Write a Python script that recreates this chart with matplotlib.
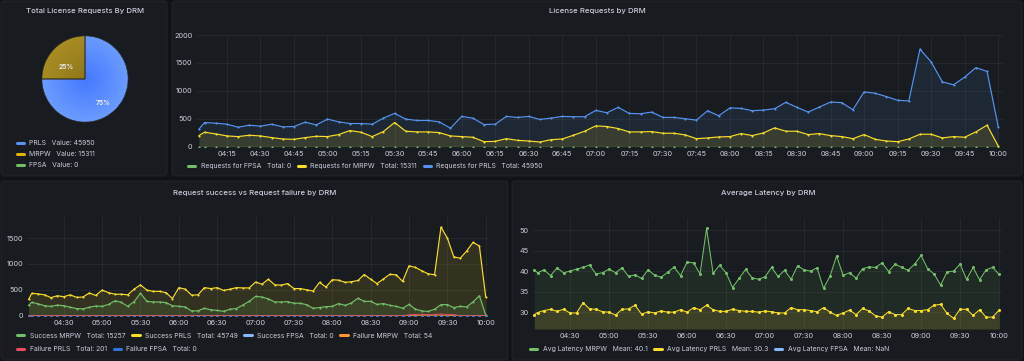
import numpy as np
import matplotlib.pyplot as plt
from matplotlib.lines import Line2D
from matplotlib.patches import FancyBboxPatch

plt.rcParams['font.family'] = ['Inter', 'DejaVu Sans']

# --- data -------------------------------------------------------------
# samples: first one at 04:02:30, then every 5 minutes up to 10:00
t_min = np.r_[242.5, np.arange(245, 601, 5)]

pie_labels = ["PRLS", "MRPW", "FPSA"]
pie_values = [45950, 15311, 0]

prls = [313, 433, 421, 403, 349, 385, 367, 403, 355, 361,
        439, 391, 494, 445, 415, 415, 403, 512, 596, 494,
        470, 470, 445, 331, 542, 512, 397, 403, 542, 524,
        542, 488, 512, 542, 536, 536, 650, 608, 704, 596,
        590, 620, 524, 524, 500, 476, 644, 554, 695, 686,
        644, 656, 680, 795, 704, 620, 710, 800, 789, 662,
        981, 957, 897, 831, 819, 1746, 1517, 1162, 1108, 1246,
        1415, 1348, 361]
mrpw = [199, 259, 229, 193, 181, 205, 193, 163, 138, 132,
        163, 187, 181, 217, 289, 259, 181, 271, 433, 277,
        265, 265, 253, 193, 181, 169, 90, 96, 144, 114,
        102, 84, 126, 138, 205, 277, 373, 361, 325, 265,
        265, 271, 241, 241, 211, 144, 157, 175, 181, 235,
        199, 247, 337, 277, 277, 217, 235, 199, 181, 144,
        217, 132, 102, 90, 138, 223, 223, 157, 181, 169,
        265, 385, 12]
fpsa = [0] * 73

success_prls = [313, 433, 421, 403, 349, 385, 367, 403, 355, 361,
                439, 391, 494, 445, 415, 415, 403, 512, 596, 494,
                470, 470, 445, 331, 542, 512, 397, 403, 542, 524,
                542, 488, 512, 542, 536, 536, 650, 608, 704, 596,
                590, 620, 524, 524, 500, 476, 644, 554, 695, 686,
                644, 656, 680, 795, 704, 620, 710, 800, 789, 662,
                963, 932, 867, 809, 791, 1711, 1497, 1139, 1108, 1246,
                1415, 1348, 361]
success_mrpw = [199, 259, 229, 193, 181, 205, 193, 163, 138, 132,
                163, 187, 181, 217, 289, 259, 181, 271, 433, 277,
                265, 265, 253, 193, 181, 169, 90, 96, 144, 114,
                102, 84, 126, 138, 205, 277, 373, 361, 325, 265,
                265, 271, 241, 241, 211, 144, 157, 175, 181, 235,
                199, 247, 337, 277, 277, 217, 235, 199, 181, 144,
                217, 126, 92, 82, 126, 214, 214, 157, 181, 169,
                265, 385, 12]
success_fpsa = [0] * 73
fail_prls = [0] * 60 + [18, 25, 30, 22, 28, 35, 20, 23] + [0] * 5
fail_mrpw = [0] * 61 + [6, 10, 8, 12, 9, 9] + [0] * 6
fail_fpsa = [0] * 73

lat_mrpw = [40.3, 39.6, 40.3, 38.9, 40.8, 39.6, 40.0, 40.5, 40.9, 41.5,
            39.3, 39.6, 40.5, 39.6, 40.8, 38.7, 39.1, 38.2, 40.3, 39.0,
            38.5, 39.7, 41.0, 38.9, 42.2, 42.0, 39.3, 50.4, 39.5, 41.4,
            39.6, 36.0, 38.2, 40.4, 38.4, 38.0, 38.6, 40.9, 38.7, 40.2,
            38.0, 41.3, 40.3, 40.0, 40.8, 35.8, 38.8, 43.7, 39.0, 39.6,
            38.3, 40.6, 41.0, 40.9, 42.0, 39.9, 41.7, 40.9, 40.2, 41.7,
            43.8, 40.6, 39.3, 36.6, 39.8, 40.0, 41.7, 38.0, 40.9, 37.9,
            40.3, 40.9, 39.2]
lat_prls = [29.4, 29.9, 30.4, 30.7, 30.2, 30.7, 29.8, 29.8, 32.3, 30.8,
            30.7, 30.1, 30.0, 29.3, 30.7, 30.8, 31.7, 29.5, 30.1, 29.8,
            30.3, 30.0, 30.0, 30.6, 30.0, 31.1, 30.6, 31.7, 30.6, 30.2,
            30.2, 30.7, 30.4, 30.2, 30.2, 30.0, 30.3, 30.1, 29.8, 29.8,
            31.1, 30.6, 30.6, 30.4, 30.1, 31.1, 30.0, 29.2, 29.8, 30.5,
            29.4, 30.9, 30.3, 29.1, 28.8, 30.1, 29.4, 29.4, 30.9, 30.4,
            30.4, 30.6, 31.7, 31.9, 29.7, 28.5, 30.7, 30.7, 29.2, 30.6,
            28.8, 28.8, 30.5]

ticks_15 = ["04:15", "04:30", "04:45", "05:00", "05:15", "05:30", "05:45",
            "06:00", "06:15", "06:30", "06:45", "07:00", "07:15", "07:30",
            "07:45", "08:00", "08:15", "08:30", "08:45", "09:00", "09:15",
            "09:30", "09:45", "10:00"]
ticks_30 = ["04:30", "05:00", "05:30", "06:00", "06:30", "07:00", "07:30",
            "08:00", "08:30", "09:00", "09:30", "10:00"]

# --- colours ----------------------------------------------------------
BG = "#111217"
PANEL = "#181b1f"
BORDER = "#24272d"
TXT = "#ccccdc"
BLUE = "#5794f2"
YELLOW = "#fade2a"
GREEN = "#73bf69"
ORANGE = "#ff9830"
RED = "#f2495c"
DBLUE = "#3274d9"
LBLUE = "#8ab8ff"

W, H = 1024, 361
fig = plt.figure(figsize=(W / 100, H / 100), dpi=100, facecolor=BG)


def fx(x):
    return x / W


def fy(y):
    return 1 - y / H


def to_min(s):
    h, m = s.split(":")
    return int(h) * 60 + int(m)


def panel(x0, y0, x1, y1, title, tx, ty):
    p = FancyBboxPatch((fx(x0), fy(y1)), (x1 - x0) / W, (y1 - y0) / H,
                       boxstyle="round,pad=0,rounding_size=0.003",
                       mutation_aspect=W / H, transform=fig.transFigure,
                       facecolor=PANEL, edgecolor=BORDER, lw=0.6, zorder=-1)
    fig.add_artist(p)
    fig.text(fx(tx), fy(ty), title, ha="center", va="center", color=TXT,
             fontsize=5.6, fontweight="medium")


def legend(items, x, y, **kw):
    handles = [Line2D([0], [0], color=c, lw=2.2, solid_capstyle="round") for c, _ in items]
    labels = [lab for _, lab in items]
    opts = dict(ncol=len(items), columnspacing=1.0)
    opts.update(kw)
    fig.legend(handles, labels, loc="center left", bbox_to_anchor=(fx(x), fy(y)),
               frameon=False, fontsize=4.9, labelcolor=TXT, handlelength=1.1,
               handletextpad=0.75, borderpad=0, borderaxespad=0, **opts)


def style(ax, xt, yt, ylim):
    ax.set_facecolor("none")
    ax.set_xlim(241.5, 602)
    ax.set_ylim(*ylim)
    ax.set_xticks([to_min(s) for s in xt], xt)
    ax.set_yticks(yt)
    ax.tick_params(length=0, labelsize=5.3, colors=TXT, pad=3)
    for s in ax.spines.values():
        s.set_visible(False)
    ax.grid(color="#ccccdc", alpha=0.09, lw=0.5)
    ax.set_axisbelow(True)


def series(ax, y, c, fill=0.1, ms=1.5, lw=0.85):
    if fill:
        ax.fill_between(t_min, ax.get_ylim()[0], y, color=c, alpha=fill, lw=0)
    ax.plot(t_min, y, color=c, lw=lw, marker="o", ms=ms, mew=0)


# --- panels -----------------------------------------------------------
panel(1, 1, 167, 176, "Total License Requests By DRM", 85, 11)
panel(172, 1, 1022, 176, "License Requests by DRM", 597, 11)
panel(1, 181, 508, 360, "Request success vs Request failure by DRM", 255, 193)
panel(512, 181, 1022, 360, "Average Latency by DRM", 768, 193.5)

# --- pie --------------------------------------------------------------
axp = fig.add_axes([fx(41), fy(123), 88 / W, 88 / H])
wedges, _, pct = axp.pie(pie_values, colors=[BLUE, "#a38a22", GREEN], startangle=90,
                         counterclock=False, radius=1,
                         autopct=lambda p: f"{p:.0f}%" if p > 0 else "",
                         pctdistance=0.6,
                         wedgeprops=dict(edgecolor="#2a2a20", linewidth=0.5))
axp.set_xlim(-1.02, 1.02)
axp.set_ylim(-1.02, 1.02)
axp.set_aspect("equal")
yy, xx = np.mgrid[-1:1:200j, -1:1:200j]
rr = np.clip(np.hypot(xx, yy), 0, 1)[..., None]
grads = [((0.27, 0.47, 1.0), (0.42, 0.61, 1.0)),
         ((0.56, 0.47, 0.10), (0.66, 0.55, 0.14))]
for w, (c0, c1) in zip(wedges[:2], grads):
    img = np.array(c0) * (1 - rr) + np.array(c1) * rr
    im = axp.imshow(img, extent=(-1, 1, -1, 1), origin="lower", zorder=1)
    im.set_clip_path(w)
    w.set_zorder(2)
    w.set_facecolor("none")
for t in pct:
    x, y = t.get_position()
    t.set_position((x, y - 0.14))
    t.set_color("#e6e6ee")
    t.set_fontsize(4.8)
    t.set_fontweight("bold")
    t.set_zorder(3)

legend([(BLUE, f"{pie_labels[0]}   Value: {pie_values[0]}"),
        ("#e0b400", f"{pie_labels[1]}   Value: {pie_values[1]}"),
        (GREEN, f"{pie_labels[2]}   Value: {pie_values[2]}")],
       16.5, 154, ncol=1, labelspacing=0.75)

# --- license requests -------------------------------------------------
ax1 = fig.add_axes([fx(196.7), fy(146.7), 806 / W, 111.7 / H])
style(ax1, ticks_15, [0, 500, 1000, 1500, 2000], (0, 2000))
series(ax1, prls, BLUE)
series(ax1, mrpw, YELLOW, fill=0.12)
series(ax1, fpsa, GREEN, fill=0)
legend([(GREEN, f"Requests for FPSA   Total: {sum(fpsa)}"),
        (YELLOW, f"Requests for MRPW   Total: {pie_values[1]}"),
        (BLUE, f"Requests for PRLS   Total: {pie_values[0]}")],
       188, 166.5)

# --- success vs failure -----------------------------------------------
ax2 = fig.add_axes([fx(27.3), fy(315.7), 461 / W, 98.4 / H])
style(ax2, ticks_30, [0, 500, 1000, 1500], (0, 1900))
series(ax2, success_prls, YELLOW, fill=0.12)
series(ax2, success_mrpw, GREEN, fill=0.12)
series(ax2, success_fpsa, LBLUE, fill=0)
series(ax2, fail_mrpw, ORANGE, fill=0, lw=0.6, ms=1.0)
series(ax2, fail_prls, RED, fill=0, lw=0.6, ms=1.0)
series(ax2, fail_fpsa, DBLUE, fill=0)
legend([(GREEN, "Success MRPW   Total: 15257"),
        (YELLOW, "Success PRLS   Total: 45749"),
        (LBLUE, "Success FPSA   Total: 0"),
        (ORANGE, f"Failure MRPW   Total: {sum(fail_mrpw)}")],
       17, 335.7)
legend([(RED, f"Failure PRLS   Total: {sum(fail_prls)}"),
        (DBLUE, f"Failure FPSA   Total: {sum(fail_fpsa)}")],
       17, 349.3)

# --- latency ----------------------------------------------------------
ax3 = fig.add_axes([fx(533), fy(329), 468.7 / W, 111.3 / H])
style(ax3, ticks_30, [30, 35, 40, 45, 50], (25.9, 53))
series(ax3, lat_mrpw, GREEN, fill=0.1, ms=2.2, lw=0.75)
series(ax3, lat_prls, YELLOW, fill=0.12, ms=2.2, lw=0.75)
legend([(GREEN, "Avg Latency MRPW   Mean: 40.1"),
        (YELLOW, "Avg Latency PRLS   Mean: 30.3"),
        (LBLUE, "Avg Latency FPSA   Mean: NaN")],
       530, 349.3)

fig.savefig("out.png", dpi=100, facecolor=BG)
